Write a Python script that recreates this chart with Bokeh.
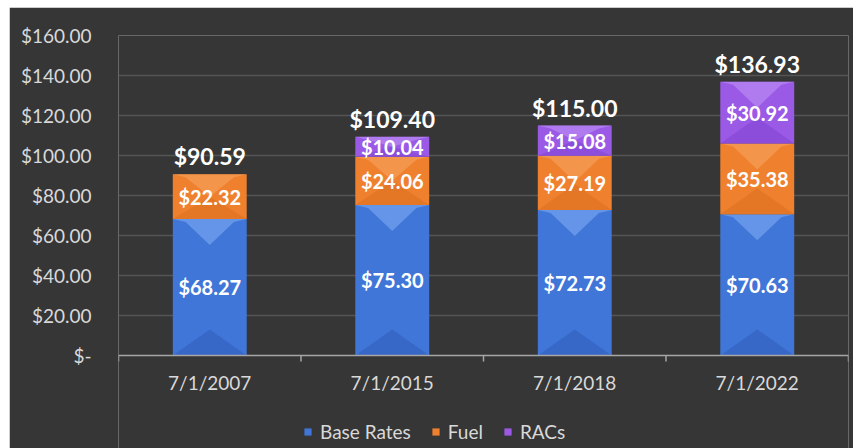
from bokeh.plotting import figure
from bokeh.models import ColumnDataSource, FixedTicker, Legend, LegendItem, LabelSet
from bokeh.embed import file_html
from bokeh.resources import INLINE
from bokeh.core.properties import value

categories = ["7/1/2007", "7/1/2015", "7/1/2018", "7/1/2022"]
base_rates = [68.27, 75.30, 72.73, 70.63]
fuel = [22.32, 24.06, 27.19, 35.38]
racs = [0.0, 10.04, 15.08, 30.92]
totals = [90.59, 109.40, 115.00, 136.93]
y_ticks = [0, 20, 40, 60, 80, 100, 120, 140, 160]
series_names = ["Base Rates", "Fuel", "RACs"]
series_colors = ["#4076d8", "#ef812e", "#9b5ae6"]
series_light = ["#8ab3f7", "#f8aa68", "#c59cf6"]
series_dark = ["#2d57b4", "#d66b1c", "#7a3fcb"]

FONT = "Lato"
TEXT = "#d9d9d9"
AXIS = "#a6a6a6"
BG = "#363636"
BAR_W = 0.405
PX_PER_UNIT = 2.0          # 320 px frame for 0..160
BELOW_PX = 93              # room under the x axis for labels and legend

xs = [i + 0.5 for i in range(len(categories))]

p = figure(width=844, height=441, output_backend="svg", toolbar_location=None,
           x_range=(0, len(categories)), y_range=(-BELOW_PX / PX_PER_UNIT, y_ticks[-1]),
           min_border_left=109, min_border_right=5, min_border_top=28, min_border_bottom=0)
p.margin = (7, 0, 0, 9)
p.background_fill_color = BG
p.border_fill_color = BG
p.outline_line_color = None

# grid
p.xgrid.grid_line_color = None
p.ygrid.ticker = FixedTicker(ticks=y_ticks[1:])
p.ygrid.grid_line_color = "#555555"
p.ygrid.grid_line_width = 1.5

# stacked segments
series = [base_rates, fuel, racs]
bottoms = [0.0] * len(categories)
renderers = []
for name, vals, col, lt, dk in zip(series_names, series, series_colors, series_light, series_dark):
    tops = [b + v for b, v in zip(bottoms, vals)]
    keep = [i for i, v in enumerate(vals) if v > 0]
    src = ColumnDataSource(dict(
        x=[xs[i] for i in keep], bottom=[bottoms[i] for i in keep], top=[tops[i] for i in keep],
        mid=[(bottoms[i] + tops[i]) / 2 for i in keep],
        lab=["${:.2f}".format(vals[i]) for i in keep]))
    r = p.vbar(x="x", bottom="bottom", top="top", width=BAR_W, source=src,
               fill_color=col, line_color=None)
    renderers.append(r)
    # bevel shading: light top triangle, dark bottom triangle
    txs, tys, bxs, bys = [], [], [], []
    for i in keep:
        h = tops[i] - bottoms[i]
        d = min(h / 2, 13.0)
        x0, x1 = xs[i] - BAR_W / 2, xs[i] + BAR_W / 2
        txs.append([x0, x1, x1 - 0.07, xs[i], x0 + 0.07])
        tys.append([tops[i], tops[i], tops[i] - 1.5, tops[i] - d, tops[i] - 1.5])
        bxs.append([x0, x1, xs[i]])
        bys.append([bottoms[i], bottoms[i], bottoms[i] + d])
    p.patches(txs, tys, fill_color=lt, fill_alpha=0.5, line_color=None)
    p.patches(bxs, bys, fill_color=dk, fill_alpha=0.45, line_color=None)
    p.add_layout(LabelSet(x="x", y="mid", text="lab", source=src, text_align="center",
                          text_baseline="middle", text_color="white", text_font=value(FONT),
                          text_font_style="bold", text_font_size="20px"))
    bottoms = tops

tot_src = ColumnDataSource(dict(x=xs, y=totals, lab=["${:.2f}".format(t) for t in totals]))
p.add_layout(LabelSet(x="x", y="y", text="lab", source=tot_src, text_align="center",
                      text_baseline="bottom", y_offset=4, text_color="white",
                      text_font=value(FONT), text_font_style="bold", text_font_size="23px"))

# y axis (labels only)
p.yaxis.ticker = FixedTicker(ticks=y_ticks)
p.yaxis.major_label_overrides = {t: ("$-" if t == 0 else "${:.2f}".format(t)) for t in y_ticks}
p.yaxis.axis_line_color = None
p.yaxis.major_tick_line_color = None
p.yaxis.minor_tick_line_color = None
p.yaxis.major_label_text_color = TEXT
p.yaxis.major_label_text_font = FONT
p.yaxis.major_label_text_font_size = "19px"
p.yaxis.major_label_standoff = 21
p.xaxis.visible = False

# category axis drawn at the zero line
bounds = list(range(len(categories) + 1))
tick_len = 6 / PX_PER_UNIT
p.segment(x0=[bounds[0]], y0=[0], x1=[bounds[-1]], y1=[0], line_color=AXIS, line_width=1.5)
p.segment(x0=bounds, y0=[0] * len(bounds), x1=bounds, y1=[-tick_len] * len(bounds),
          line_color=AXIS, line_width=1.5)
cat_src = ColumnDataSource(dict(x=xs, y=[0] * len(xs), lab=categories))
p.add_layout(LabelSet(x="x", y="y", text="lab", source=cat_src, text_align="center",
                      text_baseline="top", y_offset=-15, text_color=TEXT,
                      text_font=value(FONT), text_font_size="19px"))

legend = Legend(items=[LegendItem(label=n, renderers=[r]) for n, r in zip(series_names, renderers)],
                orientation="horizontal", location=(185, 5),
                label_text_color=TEXT, label_text_font=FONT, label_text_font_size="19px",
                glyph_width=9, glyph_height=9, spacing=20, label_standoff=8,
                background_fill_alpha=0, border_line_color=None, margin=0, padding=2)
p.add_layout(legend, "center")

open("out.html", "w").write(file_html(p, INLINE))
